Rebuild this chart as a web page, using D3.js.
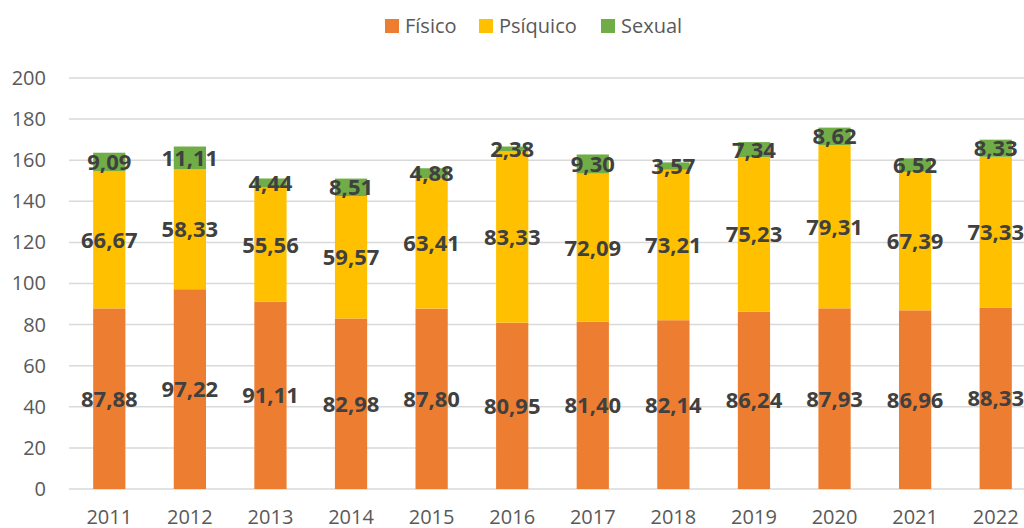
<!DOCTYPE html>
<html>
<head>
<meta charset="utf-8">
<script src="https://cdn.jsdelivr.net/npm/d3@7"></script>
<style>
  html, body { margin: 0; padding: 0; background: #fff; overflow: hidden; }
  svg { display: block; font-family: "Open Sans", sans-serif; }
</style>
</head>
<body>
<div id="chart"></div>
<script>
// data
var years = ["2011","2012","2013","2014","2015","2016","2017","2018","2019","2020","2021","2022"];
var fisico   = [87.88, 97.22, 91.11, 82.98, 87.80, 80.95, 81.40, 82.14, 86.24, 87.93, 86.96, 88.33];
var psiquico = [66.67, 58.33, 55.56, 59.57, 63.41, 83.33, 72.09, 73.21, 75.23, 79.31, 67.39, 73.33];
var sexual   = [9.09, 11.11, 4.44, 8.51, 4.88, 2.38, 9.30, 3.57, 7.34, 8.62, 6.52, 8.33];
var seriesNames = ["Físico", "Psíquico", "Sexual"];
var yTicks = [0, 20, 40, 60, 80, 100, 120, 140, 160, 180, 200];

var colours = ["#ED7D31", "#FFC000", "#70AD47"];

var w = 1024, h = 528;

var rows = years.map(function(y, i) {
  return {year: y, "Físico": fisico[i], "Psíquico": psiquico[i], "Sexual": sexual[i]};
});
var stacked = d3.stack().keys(seriesNames)(rows);

var svg = d3.select("#chart").append("svg")
  .attr("width", w)
  .attr("height", h);

var xScale = d3.scaleBand().domain(years)
  .range([69, 1036])
  .paddingInner(0.6)
  .paddingOuter(0.3);

var yScale = d3.scaleLinear().domain([0, 200]).range([489, 78]);

// gridlines
svg.append("g").selectAll("line")
  .data(yTicks)
  .enter()
  .append("line")
  .attr("x1", 69)
  .attr("x2", w)
  .attr("y1", function(d) { return yScale(d); })
  .attr("y2", function(d) { return yScale(d); })
  .attr("stroke", "#d9d9d9")
  .attr("stroke-width", 1.5);

// y axis labels
var yAxis = d3.axisLeft(yScale).tickValues(yTicks).tickSize(0).tickPadding(0);
var yg = svg.append("g")
  .attr("transform", "translate(46,0)")
  .call(yAxis);
yg.select(".domain").remove();
yg.selectAll("text")
  .attr("font-family", "Open Sans")
  .attr("font-size", 20)
  .attr("fill", "#595959");

// x axis labels
var xAxis = d3.axisBottom(xScale).tickSize(0).tickPadding(0);
var xg = svg.append("g")
  .attr("transform", "translate(0,510)")
  .call(xAxis);
xg.select(".domain").remove();
xg.selectAll("text")
  .attr("font-family", "Open Sans")
  .attr("font-size", 20)
  .attr("fill", "#595959");

// bars
var layers = svg.selectAll("g.layer")
  .data(stacked)
  .enter()
  .append("g")
  .attr("class", "layer")
  .attr("fill", function(d, i) { return colours[i]; });

layers.selectAll("rect")
  .data(function(d) { return d; })
  .enter()
  .append("rect")
  .attr("x", function(d) { return xScale(d.data.year); })
  .attr("y", function(d) { return yScale(d[1]); })
  .attr("width", xScale.bandwidth())
  .attr("height", function(d) { return yScale(d[0]) - yScale(d[1]); });

// value labels
stacked.forEach(function(layer) {
  svg.append("g").selectAll("text")
    .data(layer)
    .enter()
    .append("text")
    .attr("x", function(d) { return xScale(d.data.year) + xScale.bandwidth() / 2; })
    .attr("y", function(d) { return yScale((d[0] + d[1]) / 2); })
    .attr("dy", "0.36em")
    .attr("text-anchor", "middle")
    .attr("font-family", "Open Sans")
    .attr("font-weight", "bold")
    .attr("font-size", 22)
    .attr("fill", "#404040")
    .text(function(d) { return (d[1] - d[0]).toFixed(2).replace(".", ","); });
});

// legend
var legendX = [385, 479, 601];
var legend = svg.append("g").selectAll("g")
  .data(seriesNames)
  .enter()
  .append("g")
  .attr("transform", function(d, i) { return "translate(" + legendX[i] + ",19)"; });
legend.append("rect")
  .attr("width", 14)
  .attr("height", 14)
  .attr("fill", function(d, i) { return colours[i]; });
legend.append("text")
  .attr("x", 20)
  .attr("y", 14)
  .attr("font-family", "Open Sans")
  .attr("font-size", 20)
  .attr("fill", "#595959")
  .text(function(d) { return d; });
</script>
</body>
</html>
